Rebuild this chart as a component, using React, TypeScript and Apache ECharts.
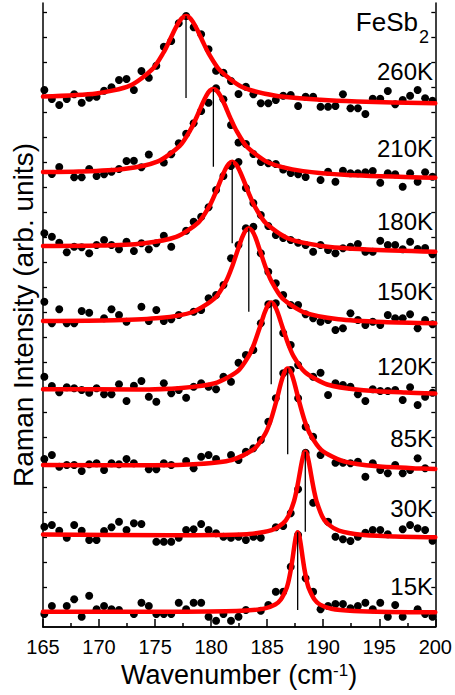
import React, { useEffect, useRef } from "react";
import * as echarts from "echarts";

// Wavenumber grid of the measured points (cm^-1)
const gridX = [
  165.12, 165.79, 166.45, 167.12, 167.78, 168.45, 169.12, 169.78, 170.45, 171.11,
  171.78, 172.45, 173.11, 173.78, 174.44, 175.11, 175.78, 176.44, 177.11, 177.77,
  178.44, 179.11, 179.77, 180.44, 181.1, 181.77, 182.44, 183.1, 183.77, 184.43,
  185.1, 185.77, 186.43, 187.1, 187.76, 188.43, 189.1, 189.76, 190.43, 191.09,
  191.76, 192.43, 193.09, 193.76, 194.42, 195.09, 195.76, 196.42, 197.09, 197.75,
  198.42, 199.09, 199.75,
];

// Measured intensities (arb. units, vertically offset), one array per temperature
const s260 = [
  537, 528, 522, 528, 532.7, 524.3, 529.3, 530.3, 536.3, 539.7, 547, 548, 537, 556, 549.3,
  561.3, 580.3, 586, 603.7, 611, 599.7, 592.7, 577.7, 556.3, 554.3, 546, 533, 540.3, 532.7,
  523.7, 523.7, 527, 531.3, 532, 521, 530.3, 530.3, 520.3, 520.3, 521, 532.7, 518.7, 518.7,
  513, 528.3, 528.3, 536, 522.7, 527, 531.3, 537, 528.7, 526.3,
];
const s210 = [
  null, 453, 460, null, 449.7, 449.7, 458, 451, 452.7, 455.3, 458, 466, 466.3, 459.7, 472.5,
  null, 464.5, 472.7, 483.7, 493.3, 503.7, 516, 524.3, 538.7, 527.7, 502, 484.5, 483, 473,
  465, 463.7, 463, 457.5, 454, 452.7, 450, null, 447, 455.3, 445.3, 456.3, 453.7, 453.7,
  454.7, 456, 444.3, 453.7, 452.7, 440.3, 453.7, 445.3, 454.7, 450.3,
];
const s180 = [
  393.7, 390.3, 384.3, 374.7, 380.3, 379.7, 373.7, 382, 387, 382, 377.7, 385.3, 376, 383.7,
  377.7, 383.7, 391.3, 380.3, null, 396.3, 405.3, 410.3, 419.7, 437, 451, 461, 465, 439, 424,
  412, 401, 392, 389, 387, 384.3, 382, 375.3, 382, 377, 373.7, 378.7, 380.3, 383, 375.3,
  375.3, 386.3, 382, 382, 377.7, 385.3, 378, 379, 372.7,
];
const s150 = [
  325.3, 303.7, 317.7, 303.7, 303.7, 316, 314.3, null, 308.7, 317.7, 312, 305.3, null, 320.3,
  306, 317, 306, 307.7, 312, null, 315.3, 317, 328.7, 332, 342, 368.7, 382, 398.7, 400.3,
  373.7, 355.3, 343.7, 332, 322, 322, 312.7, 308.7, 305.3, 307, 297, 298.7, 313.7, 307, 302,
  305.3, 302, 312, 308.7, 308.7, 312.7, 298.7, 307, 302.7,
];
const s120 = [
  250.3, 241, 234.7, 239.7, 238.7, 237, 234.3, 238.7, 232.7, 232.7, 242.7, 226, 241.3, 246,
  230.3, 225.3, 243.7, 233.7, 237, 229.3, 240.3, 243.7, 240.3, 237.7, 250.3, 245.3, 264.3,
  272, 277, 303.7, 322.7, 323.7, 294, 282, 262, null, 250.3, 254.3, 232, 243.7, 242, 240.3,
  232.7, 226, 237.7, 236, 236, 237, 227, 239.7, 222, 230.3, 234.3,
];
const s85 = [
  168, 172, 160.3, 162, 162, 156, 162.7, 163.7, 157, 163.7, 162.7, 168, 163.7, null, 157.7,
  157.7, 163.7, 162, null, 166, 158.7, 170.3, 172, 168, null, 172, 167, 175.3, 178.7, 187,
  205.3, 228.7, 253.7, 257, 228.7, 200.3, 190.3, 172, null, 164.3, 164.3, 163.7, 165.3, 150.3,
  163.7, 157, 153.7, 162, 153.7, 157, 168.7, 158.7, null,
];
const s30 = [
  100.3, 102, 96.3, 89.3, 102, 96.3, 87, 87, 96, 99.7, 105.3, 97, 103.7, 103, null, 85.3, 85.3,
  85.3, 89.3, 97, 97.7, 103, 97, 93.7, 90.3, 89.3, 90.3, 87, 90.3, 89.3, null, 99.7, 101, 113.7,
  137.7, 174.3, 124.3, null, 105.3, 90.3, 87.7, 86, 90.3, 94.3, 97, 97, 92.7, null, 97.7, 102,
  98.7, 97, 86.3,
];
const s15 = [
  13, 21, null, 21, 27.7, 10.3, 31.3, 17.7, 21, 17.7, 17, null, 13, 24.3, 21, 13, 13, 13, 24.3,
  17.7, 24.3, 24.3, 10.3, 6.3, 13, 6.3, 10.3, 17, null, 16.3, 22, 35.3, 35.3, 60.3, 92, 48.7,
  35.3, 17.7, 21, 23, 23, 18.7, 21, 24.3, 17.7, 24.3, 10.3, 22, 10.3, null, 17.7, 13, 10.3,
];

// Fitted curves
const fit260 = [
  [165, 530.4], [169.76, 533.5], [172.76, 541.4], [174.76, 557.8], [175.76, 574.6],
  [176.26, 585.7], [176.76, 597.6], [177.16, 605.6], [177.46, 609.6], [177.76, 610.9],
  [178.06, 609.5], [178.36, 605.4], [178.76, 597.3], [179.26, 585.3], [179.76, 574.0],
  [180.76, 557.0], [182.76, 540.0], [185.76, 531.3], [189.76, 527.2], [193, 525.5], [200, 523.7],
];
const fit210 = [
  [165, 455.0], [168.2, 455.5], [172.2, 458.1], [175.2, 465.4], [177.2, 481.1], [178.2, 498.1],
  [178.7, 509.8], [179.2, 522.8], [179.6, 531.9], [179.9, 536.5], [180.2, 538.1], [180.5, 536.4],
  [180.8, 531.7], [181.2, 522.5], [181.7, 509.4], [182.2, 497.5], [183.2, 480.2], [185.2, 464.0],
  [188.2, 455.9], [192.2, 452.1], [200, 449.3],
];
const fit180 = [
  [165, 381.0], [169.88, 381.4], [173.88, 383.6], [176.88, 390.1], [178.88, 404.7],
  [179.88, 421.5], [180.38, 433.7], [180.88, 447.7], [181.28, 457.9], [181.58, 463.3],
  [181.88, 465.2], [182.18, 463.2], [182.48, 457.8], [182.88, 447.4], [183.38, 433.2],
  [183.88, 420.8], [184.88, 403.8], [186.88, 388.5], [189.88, 381.1], [193.88, 377.6], [200, 375.3],
];
const fit150 = [
  [165, 306.0], [171.36, 306.8], [175.36, 308.9], [178.36, 315.0], [180.36, 329.2],
  [181.36, 346.4], [181.86, 360.0], [182.36, 376.5], [182.76, 389.3], [183.06, 396.2],
  [183.36, 398.8], [183.66, 396.2], [183.96, 389.3], [184.36, 376.3], [184.86, 359.8],
  [185.36, 346.2], [186.36, 328.7], [188.36, 314.3], [191.36, 307.8], [195.36, 305.0], [200, 303.7],
];
const fit120 = [
  [165, 237.7], [173.36, 237.6], [177.36, 239.1], [180.36, 243.9], [182.36, 255.7],
  [183.36, 271.1], [183.86, 283.9], [184.36, 300.3], [184.76, 314.0], [185.06, 321.5],
  [185.36, 324.4], [185.66, 321.4], [185.96, 313.8], [186.36, 300.0], [186.86, 283.5],
  [187.36, 270.6], [188.36, 254.9], [190.36, 242.5], [193.36, 237.0], [197.36, 234.4], [200, 233.5],
];
const fit85 = [
  [165, 162.0], [174.83, 161.7], [178.83, 162.9], [181.83, 167.0], [183.83, 177.9],
  [184.83, 193.3], [185.33, 207.1], [185.83, 226.5], [186.23, 244.1], [186.53, 254.5],
  [186.83, 258.6], [187.13, 254.4], [187.43, 243.9], [187.83, 226.3], [188.33, 206.7],
  [188.83, 192.8], [189.83, 177.1], [191.83, 165.7], [194.83, 160.7], [198.83, 158.4], [200, 158.0],
];
const fit30 = [
  [165, 92.5], [176.4, 91.8], [180.4, 92.0], [183.4, 93.1], [185.4, 96.9], [186.4, 103.5],
  [186.9, 111.1], [187.4, 126.0], [187.6, 135.4], [187.8, 147.1], [187.95, 156.7], [188.1, 165.9],
  [188.25, 172.7], [188.4, 175.3], [188.55, 172.7], [188.7, 165.9], [188.85, 156.7], [189.0, 147.0],
  [189.2, 135.3], [189.4, 125.9], [189.9, 110.8], [190.4, 103.1], [191.4, 96.4], [193.4, 92.2],
  [196.4, 90.5], [200, 89.7],
];
const fit15 = [
  [165, 15.3], [175.72, 15.25], [179.72, 15.5], [182.72, 16.2], [184.72, 18.4], [185.72, 22.5],
  [186.22, 27.5], [186.72, 38.6], [186.92, 46.6], [187.12, 58.0], [187.27, 68.9], [187.42, 80.8],
  [187.57, 90.8], [187.72, 94.8], [187.87, 90.8], [188.02, 80.8], [188.17, 68.9], [188.32, 58.0],
  [188.52, 46.6], [188.72, 38.6], [189.22, 27.5], [189.72, 22.4], [190.72, 18.3], [192.72, 16.1],
  [195.72, 15.1], [200, 14.7],
];

// Peak positions (vertical markers)
const peakX = [177.76, 180.2, 181.88, 183.36, 185.36, 186.83, 188.4, 187.72];
const peakTop = [610.9, 538.1, 465.2, 398.8, 324.4, 258.6, 175.3, 94.8];
const peakBottom = [529, 460.3, 383.7, 315.3, 242.7, 172.7, 95.3, 17];

const temps = ["260K", "210K", "180K", "150K", "120K", "85K", "30K", "15K"];
const xTickLabels = ["165", "170", "175", "180", "185", "190", "195", "200"];
const yTickValues = [
  15, 40, 65, 90, 115, 140, 165, 190, 215, 240, 265, 290, 315, 340, 365, 390, 415, 440, 465,
  490, 515, 540, 565, 590, 615,
];

const spectra = [s260, s210, s180, s150, s120, s85, s30, s15];
const fits = [fit260, fit210, fit180, fit150, fit120, fit85, fit30, fit15];

// layout (pixel) for temperature labels
const labelCenterY = [71.5, 148.5, 221.5, 291.5, 366.5, 438, 508, 586.5];

const FONT = "'Liberation Sans', Arial, sans-serif";

export default function App() {
  const ref = useRef<HTMLDivElement>(null);

  useEffect(() => {
    document.body.style.margin = "0";
    if (!ref.current) return;
    const chart = echarts.init(ref.current, null, { renderer: "svg" });

    const series: any[] = [];
    spectra.forEach((s) => {
      const pts: number[][] = [];
      s.forEach((v, i) => {
        if (v !== null && v !== undefined) pts.push([gridX[i], v as number]);
      });
      series.push({
        type: "scatter",
        data: pts,
        symbol: "circle",
        symbolSize: 8,
        itemStyle: { color: "#000", opacity: 1 },
        z: 2,
        silent: true,
      });
    });
    fits.forEach((f) => {
      series.push({
        type: "line",
        data: f,
        smooth: 0.25,
        showSymbol: false,
        symbol: "none",
        lineStyle: { color: "#ff0000", width: 4.5, join: "round", cap: "round" },
        z: 3,
        silent: true,
      });
    });
    peakX.forEach((px, i) => {
      series.push({
        type: "line",
        data: [
          [px, peakTop[i]],
          [px, peakBottom[i]],
        ],
        showSymbol: false,
        symbol: "none",
        lineStyle: { color: "#000", width: 1.3 },
        z: 4,
        silent: true,
      });
    });

    const axisLine = { show: true, lineStyle: { color: "#000", width: 1.5 } };

    const graphic: any[] = temps.map((t, i) => ({
      type: "text",
      x: 433,
      y: labelCenterY[i],
      style: {
        text: t,
        fill: "#000",
        fontSize: 24,
        fontFamily: FONT,
        align: "right",
        verticalAlign: "middle",
        textAlign: "right",
        textVerticalAlign: "middle",
      },
      z: 10,
    }));
    graphic.push({
      type: "text",
      x: 418,
      y: 22,
      style: {
        text: "FeSb",
        fill: "#000",
        fontSize: 26,
        fontFamily: FONT,
        align: "right",
        verticalAlign: "middle",
        textAlign: "right",
        textVerticalAlign: "middle",
      },
      z: 10,
    });
    graphic.push({
      type: "text",
      x: 419,
      y: 36.5,
      style: {
        text: "2",
        fill: "#000",
        fontSize: 18,
        fontFamily: FONT,
        align: "left",
        verticalAlign: "middle",
        textAlign: "left",
        textVerticalAlign: "middle",
      },
      z: 10,
    });

    chart.setOption({
      animation: false,
      backgroundColor: "#fff",
      grid: { left: 43, right: 16, top: 3, bottom: 68, containLabel: false },
      xAxis: [
        {
          type: "value",
          min: 165,
          max: 200,
          interval: 5,
          position: "bottom",
          axisLine,
          axisTick: { show: true, inside: true, length: 8, lineStyle: { color: "#000", width: 1.5 } },
          minorTick: { show: true, splitNumber: 2, length: 4, lineStyle: { color: "#000", width: 1.5 } },
          splitLine: { show: false },
          minorSplitLine: { show: false },
          axisLabel: {
            color: "#000",
            fontSize: 20,
            fontFamily: FONT,
            margin: 10,
            formatter: (v: number) => {
              const idx = Math.round((v - 165) / 5);
              return xTickLabels[idx] ?? "";
            },
          },
          name: "{a|Wavenumber (cm}{s|-1}{a|)}",
          nameLocation: "middle",
          nameGap: 27,
          nameTextStyle: {
            rich: {
              a: { fontSize: 27, color: "#000", fontFamily: FONT },
              s: { fontSize: 17, color: "#000", fontFamily: FONT, verticalAlign: "top" },
            },
          },
        },
        {
          type: "value",
          min: 165,
          max: 200,
          position: "top",
          axisLine,
          axisTick: { show: false },
          axisLabel: { show: false },
          splitLine: { show: false },
        },
      ],
      yAxis: [
        {
          type: "value",
          min: 0,
          max: 624,
          position: "left",
          axisLine,
          axisTick: {
            show: true,
            inside: true,
            length: 4,
            customValues: yTickValues,
            lineStyle: { color: "#000", width: 1.3 },
          },
          axisLabel: { show: false },
          splitLine: { show: false },
          name: "Raman Intensity (arb. units)",
          nameLocation: "middle",
          nameGap: 6,
          nameTextStyle: { fontSize: 28, color: "#000", fontFamily: FONT },
        },
        {
          type: "value",
          min: 0,
          max: 624,
          position: "right",
          axisLine,
          axisTick: {
            show: true,
            inside: true,
            length: 4,
            customValues: yTickValues,
            lineStyle: { color: "#000", width: 1.3 },
          },
          axisLabel: { show: false },
          splitLine: { show: false },
        },
      ],
      series,
      graphic,
    });

    return () => {
      chart.dispose();
    };
  }, []);

  return <div ref={ref} style={{ width: 455, height: 695 }} />;
}
